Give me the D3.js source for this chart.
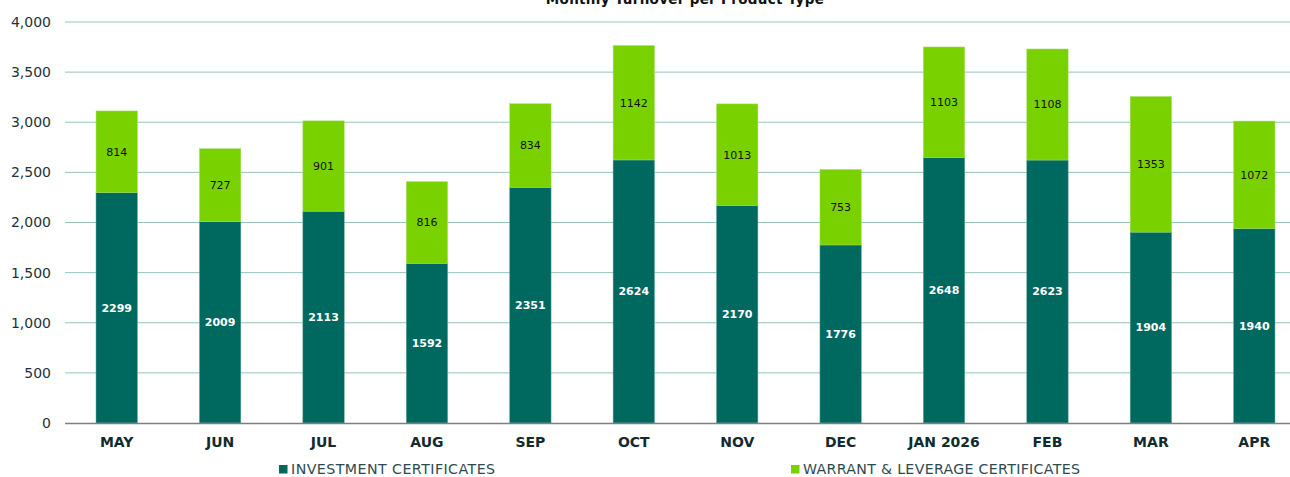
<!DOCTYPE html>
<html><head><meta charset="utf-8">
<script src="https://cdn.jsdelivr.net/npm/d3@7"></script>
<style>body{margin:0;background:#fff}svg{display:block}</style>
</head><body><svg id="c" width="1290" height="477"></svg>
<script>
const categories = ["MAY","JUN","JUL","AUG","SEP","OCT","NOV","DEC","JAN 2026","FEB","MAR","APR"];
const investment = [2299,2009,2113,1592,2351,2624,2170,1776,2648,2623,1904,1940];
const warrant = [814,727,901,816,834,1142,1013,753,1103,1108,1353,1072];
const yTicks = [0,500,1000,1500,2000,2500,3000,3500,4000];
const seriesNames = ["INVESTMENT CERTIFICATES","WARRANT & LEVERAGE CERTIFICATES"];
const colors = ["#00695f","#7ad100"];
const font = "Verdana, 'DejaVu Sans', sans-serif";

const svg = d3.select("#c");
const x = d3.scaleBand().domain(categories).range([65,1306]).paddingInner(0.6).paddingOuter(0.3);
const y = d3.scaleLinear().domain([0,4000]).range([423,22]);

svg.append("text").attr("x",685).attr("y",4).attr("text-anchor","middle")
  .attr("font-family",font).attr("font-weight","bold").attr("font-size",13.5)
  .attr("letter-spacing",0.3).attr("fill","#111")
  .text("Monthly Turnover per Product Type");

// grid
svg.append("g").selectAll("line").data(yTicks.filter(d=>d>0)).join("line")
  .attr("x1",65).attr("x2",1290).attr("y1",d=>y(d)).attr("y2",d=>y(d))
  .attr("stroke","#96c3bd").attr("stroke-width",1);

const yAxis = svg.append("g").attr("transform","translate(65,0)")
  .call(d3.axisLeft(y).tickValues(yTicks).tickFormat(d3.format(",")).tickSize(0).tickPadding(14));
yAxis.select(".domain").remove();
yAxis.selectAll("text").attr("font-family",font).attr("font-size",14).attr("fill","#1d3236");

const stack = categories.map((c,i)=>({c, a:investment[i], b:warrant[i]}));
const g = svg.append("g");
g.selectAll("rect.a").data(stack).join("rect").attr("class","a")
  .attr("x",d=>x(d.c)).attr("width",x.bandwidth())
  .attr("y",d=>y(d.a)).attr("height",d=>y(0)-y(d.a)).attr("fill",colors[0])
  .attr("stroke","#5fa59c").attr("stroke-width",0.5);
g.selectAll("rect.b").data(stack).join("rect").attr("class","b")
  .attr("x",d=>x(d.c)).attr("width",x.bandwidth())
  .attr("y",d=>y(d.a+d.b)).attr("height",d=>y(d.a)-y(d.a+d.b)).attr("fill",colors[1])
  .attr("stroke","#a8e070").attr("stroke-width",0.5);

g.selectAll("text.a").data(stack).join("text").attr("class","a")
  .attr("x",d=>x(d.c)+x.bandwidth()/2).attr("y",d=>y(d.a/2)).attr("dy","0.35em")
  .attr("text-anchor","middle").attr("font-family",font).attr("font-weight","bold")
  .attr("font-size",11).attr("fill","#fff").text(d=>d.a);
g.selectAll("text.b").data(stack).join("text").attr("class","b")
  .attr("x",d=>x(d.c)+x.bandwidth()/2).attr("y",d=>y(d.a+d.b/2)).attr("dy","0.35em")
  .attr("text-anchor","middle").attr("font-family",font)
  .attr("font-size",11).attr("fill","#111").text(d=>d.b);

// x axis
const xAxis = svg.append("g").attr("transform","translate(0,423)")
  .call(d3.axisBottom(x).tickSize(0).tickPadding(14));
xAxis.select(".domain").remove();
svg.append("line").attr("x1",65).attr("x2",1290).attr("y1",423.5).attr("y2",423.5)
  .attr("stroke","#7f7f7f").attr("stroke-width",1.5);
xAxis.selectAll("text").attr("font-family",font).attr("font-weight","bold")
  .attr("font-size",14).attr("fill","#122b2e");

// legend
const legX = [279,791];
const leg = svg.append("g").selectAll("g").data(seriesNames).join("g")
  .attr("transform",(d,i)=>`translate(${legX[i]},473.5)`);
leg.append("rect").attr("x",0).attr("y",-8.5).attr("width",8.5).attr("height",8.5).attr("fill",(d,i)=>colors[i]);
leg.append("text").attr("x",12).attr("y",0).attr("font-family",font).attr("font-size",14.2)
  .attr("letter-spacing",(d,i)=>i===0?0.45:0.3)
  .attr("fill","#2e4a50").text(d=>d);
</script></body></html>
